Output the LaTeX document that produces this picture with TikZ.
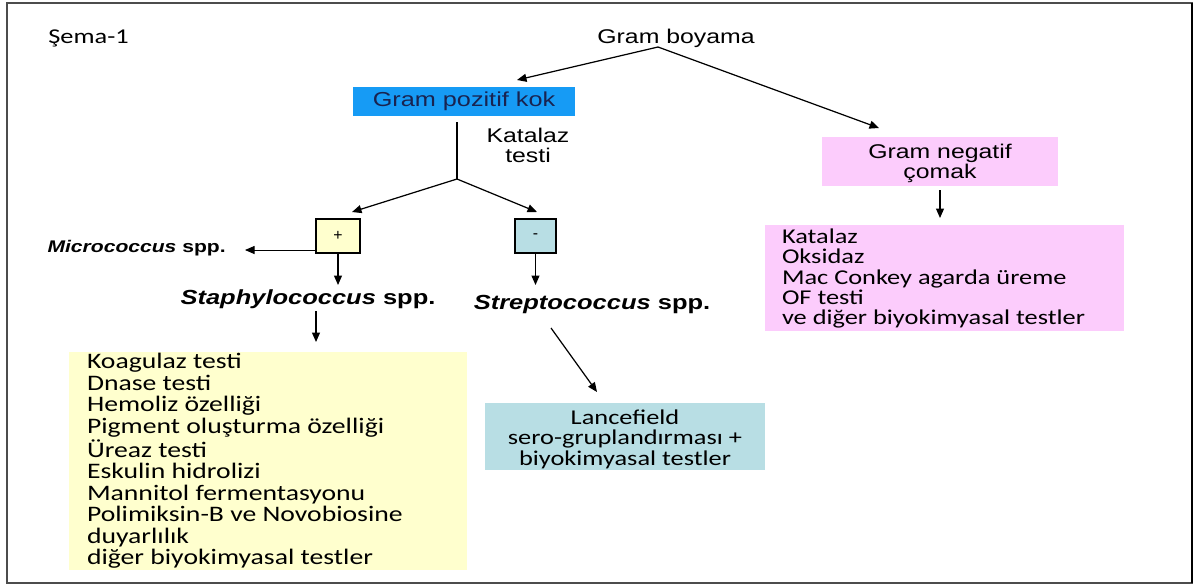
\documentclass[tikz,border=0pt]{standalone}
\usepackage{fontspec}
\setmainfont{Liberation Sans}
\newfontfamily\calib{Carlito}
\usetikzlibrary{arrows.meta}
\definecolor{gp_blue}{RGB}{22,155,245}
\definecolor{gp_text}{RGB}{25,35,80}
\definecolor{st_yellow}{RGB}{255,255,206}
\definecolor{sr_teal}{RGB}{184,222,228}
\definecolor{gn_pink}{RGB}{252,204,252}
\newcommand{\wide}[1]{\scalebox{1.25}[1]{#1}}
\newcommand{\wlines}[2]{\scalebox{1.25}[1]{\begin{tabular}{@{}#1@{}}#2\end{tabular}}}
\newcommand{\low}[2]{\raisebox{-#1}[0pt][0pt]{#2}}
\tikzstyle{txt}=[inner sep=0pt,font=\fontsize{11.3}{11.3}\selectfont]
\tikzstyle{lst}=[inner sep=0pt,font=\calib\fontsize{12}{11.7}\selectfont]
\tikzstyle{box}=[inner sep=0pt,draw=none]
\tikzstyle{sign}=[inner sep=0pt,draw=black,line width=0.7pt,font=\fontsize{9}{9}\selectfont]
\tikzstyle{arr}=[-{Triangle[length=1.9mm,width=1.6mm]},line width=0.7pt]

\begin{document}
\begin{tikzpicture}[x=0.02cm, y=-0.02cm]
    \useasboundingbox (0,0) rectangle (1196,586);
    \draw[black!70, line width=0.9pt] (7,3) rectangle (1192,583);
    \draw[line width=1.6pt] (1192,3) -- (1192,583);
    % top
    \node [style=lst, anchor=west] (sema) at (48,38) {\wide{Şema-1}};
    \node [style=txt] (gb) at (676,38) {\wide{Gram boyama}};
    \coordinate (gb-c) at (658,47);
    \coordinate (gp-in) at (517,80);
    \coordinate (gn-in) at (879,128);
    \node [style=box, fill=gp_blue, text=gp_text, font=\fontsize{11.5}{11.5}\selectfont,
      minimum width=44.4mm, minimum height=5.8mm] (gp) at (464,101.5) {\wide{Gram pozitif kok}};
    \node [style=box, fill=gn_pink, font=\fontsize{11.3}{11.3}\selectfont,
      minimum width=47.2mm, minimum height=9.8mm] (gn) at (940,161.5)
      {\low{4.5pt}{\wlines{c}{Gram negatif\\çomak}}};
    \draw [style=arr] (gb-c) to (gp-in);
    \draw [style=arr] (gb-c) to (gn-in);
    % katalaz
    \coordinate (kt-top) at (457,122);
    \coordinate (kt) at (457,179);
    \node [style=txt] (ktl) at (528,148) {\wlines{c}{Katalaz\\testi}};
    \draw [line width=0.7pt] (kt-top) to (kt);
    \node [style=sign, fill=st_yellow, minimum width=8.8mm, minimum height=6.8mm] (pos) at (338,236) {+};
    \node [style=sign, fill=sr_teal, minimum width=8.2mm, minimum height=6.8mm] (neg) at (535.5,236) {-};
    \coordinate (pos-in) at (352,212);
    \coordinate (neg-in) at (537,212);
    \draw [style=arr] (kt) to (pos-in);
    \draw [style=arr] (kt) to (neg-in);
    % positive side
    \node [style=txt, anchor=east, font=\bfseries\fontsize{9.6}{9.6}\selectfont] (mic) at (226,248)
      {\wide{\textit{Micrococcus} spp.}};
    \coordinate (pos-w) at (316,250);
    \coordinate (mic-in) at (245,250);
    \draw [style=arr, line width=0.5pt] (pos-w) to (mic-in);
    \coordinate (stp-in) at (338,285);
    \draw [style=arr] (pos.south) to (stp-in);
    \node [style=txt, font=\bfseries\fontsize{11.6}{11.6}\selectfont] (stp) at (308,299)
      {\wide{\textit{Staphylococcus} spp.}};
    \coordinate (stp-out) at (316,311);
    \coordinate (sy-in) at (316,342);
    \draw [style=arr] (stp-out) to (sy-in);
    \node [style=box, fill=st_yellow, minimum width=79.6mm, minimum height=43.6mm,
      font=\calib\fontsize{12.6}{11.7}\selectfont] (sy) at (268,461)
      {\makebox[79.6mm][l]{\hspace{3.6mm}\low{3.7pt}{\wlines{l}{Koagulaz testi\\Dnase testi\\Hemoliz özelliği\\Pigment oluşturma özelliği\\Üreaz testi\\Eskulin hidrolizi\\Mannitol fermentasyonu\\Polimiksin-B ve Novobiosine\\duyarlılık\\diğer biyokimyasal testler}}}};
    % negative side
    \coordinate (str-in) at (535.5,285);
    \draw [style=arr] (neg.south) to (str-in);
    \node [style=txt, font=\bfseries\fontsize{11.6}{11.6}\selectfont] (str) at (592,304)
      {\wide{\textit{Streptococcus} spp.}};
    \coordinate (str-out) at (551,328);
    \coordinate (lf-in) at (597,392);
    \draw [style=arr] (str-out) to (lf-in);
    \node [style=box, fill=sr_teal, minimum width=56mm, minimum height=13.4mm,
      font=\calib\fontsize{12}{11.3}\selectfont] (lf) at (625,436.5)
      {\low{5.3pt}{\wlines{c}{Lancefield\\sero-gruplandırması +\\biyokimyasal testler}}};
    % gram negatif
    \coordinate (gn-out) at (940,190);
    \coordinate (gl-in) at (940,218);
    \draw [style=arr] (gn-out) to (gl-in);
    \node [style=box, fill=gn_pink, minimum width=71.8mm, minimum height=21.2mm,
      font=\calib\fontsize{12}{10.9}\selectfont] (gl) at (944.5,278)
      {\makebox[71.8mm][l]{\hspace{3.4mm}\low{3.9pt}{\wlines{l}{Katalaz\\Oksidaz\\Mac Conkey agarda üreme\\OF testi\\ve diğer biyokimyasal testler}}}};
\end{tikzpicture}
\end{document}
